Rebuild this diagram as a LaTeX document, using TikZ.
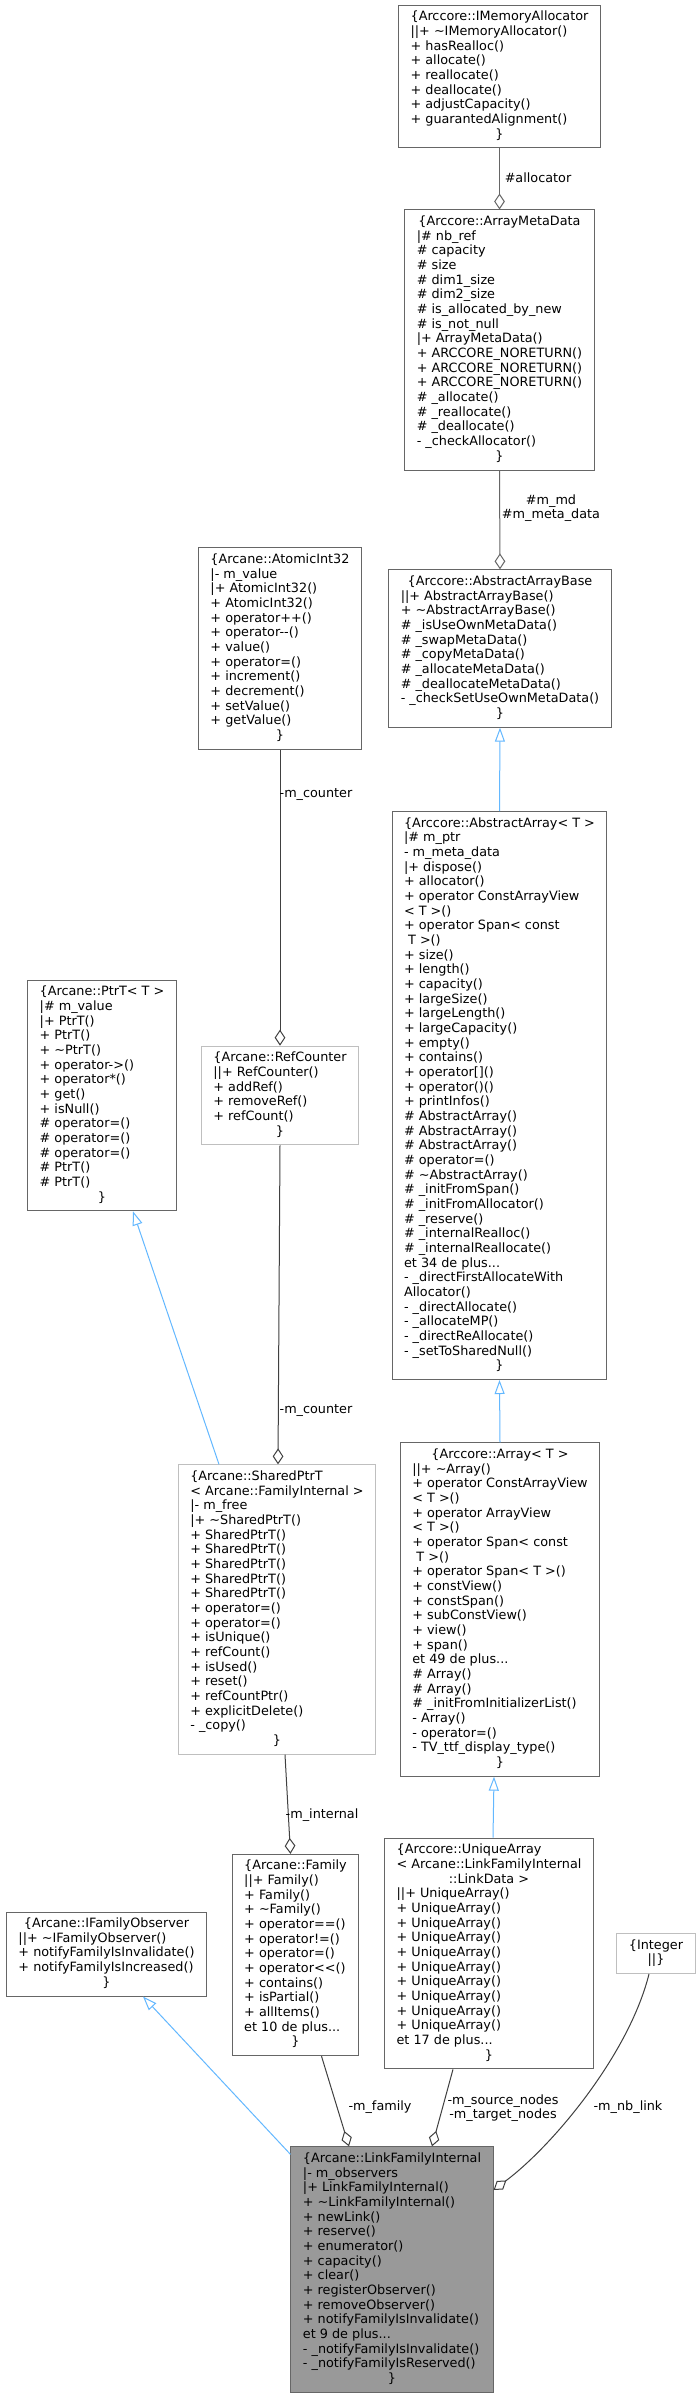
\documentclass[tikz,border=0pt]{standalone}
\usepackage{fontspec}
\setmainfont{DejaVu Sans}
\usepackage{xcolor}
\usetikzlibrary{arrows.meta,calc}

\definecolor{boxline}{HTML}{666666}
\definecolor{boxlight}{HTML}{BFBFBF}
\definecolor{focusfill}{HTML}{999999}
\definecolor{edgedark}{HTML}{404040}
\definecolor{edgeprot}{HTML}{666666}
\definecolor{inhblue}{HTML}{63B8FF}

\newcommand{\ctrline}[1]{\multicolumn{1}{@{}c@{}}{#1}}
\newcommand{\tld}{\textasciitilde}

\begin{document}
\begin{tikzpicture}[
  x=0.75pt, y=-0.75pt,
  font=\fontsize{9.6}{11}\selectfont,
  cls/.style={draw=boxline, line width=0.75pt, fill=white, inner xsep=9pt, inner ysep=4pt},
  undoc/.style={cls, draw=boxlight},
  focus/.style={cls, fill=focusfill},
  member/.style={draw=edgedark, line width=0.75pt, -{Diamond[open, length=12pt, width=8pt]}},
  protmember/.style={member, draw=edgeprot},
  inherit/.style={draw=inhblue, line width=0.75pt, -{Triangle[open, length=10.5pt, width=7.5pt]}},
  lbl/.style={inner sep=0pt, align=center}
]
\path[fill=white, use as bounding box] (0,0) rectangle (699,2397);

% right column: array classes
\node[cls] (ima) at (499.5,76.5) {\begin{tabular}{@{}l@{}}
\ctrline{\{Arccore::IMemoryAllocator}\\
||+ \tld IMemoryAllocator()\\
+ hasRealloc()\\
+ allocate()\\
+ reallocate()\\
+ deallocate()\\
+ adjustCapacity()\\
+ guarantedAlignment()\\
\ctrline{\}}
\end{tabular}};

\node[cls] (amd) at (499.5,340) {\begin{tabular}{@{}l@{}}
\ctrline{\{Arccore::ArrayMetaData}\\
|\# nb\_ref\\
\# capacity\\
\# size\\
\# dim1\_size\\
\# dim2\_size\\
\# is\_allocated\_by\_new\\
\# is\_not\_null\\
|+ ArrayMetaData()\\
+ ARCCORE\_NORETURN()\\
+ ARCCORE\_NORETURN()\\
+ ARCCORE\_NORETURN()\\
\# \_allocate()\\
\# \_reallocate()\\
\# \_deallocate()\\
- \_checkAllocator()\\
\ctrline{\}}
\end{tabular}};

\node[cls] (aab) at (500,648.5) {\begin{tabular}{@{}l@{}}
\ctrline{\{Arccore::AbstractArrayBase}\\
||+ AbstractArrayBase()\\
+ \tld AbstractArrayBase()\\
\# \_isUseOwnMetaData()\\
\# \_swapMetaData()\\
\# \_copyMetaData()\\
\# \_allocateMetaData()\\
\# \_deallocateMetaData()\\
- \_checkSetUseOwnMetaData()\\
\ctrline{\}}
\end{tabular}};

\node[cls] (aa) at (499.5,1095.5) {\begin{tabular}{@{}l@{}}
\ctrline{\{Arccore::AbstractArray< T >}\\
|\# m\_ptr\\
- m\_meta\_data\\
|+ dispose()\\
+ allocator()\\
+ operator ConstArrayView\\
< T >()\\
+ operator Span< const\\
\ T >()\\
+ size()\\
+ length()\\
+ capacity()\\
+ largeSize()\\
+ largeLength()\\
+ largeCapacity()\\
+ empty()\\
+ contains()\\
+ operator[]()\\
+ operator()()\\
+ printInfos()\\
\# AbstractArray()\\
\# AbstractArray()\\
\# AbstractArray()\\
\# operator=()\\
\# \tld AbstractArray()\\
\# \_initFromSpan()\\
\# \_initFromAllocator()\\
\# \_reserve()\\
\# \_internalRealloc()\\
\# \_internalReallocate()\\
et 34 de plus...\\
- \_directFirstAllocateWith\\
Allocator()\\
- \_directAllocate()\\
- \_allocateMP()\\
- \_directReAllocate()\\
- \_setToSharedNull()\\
\ctrline{\}}
\end{tabular}};

\node[cls] (arr) at (500,1609.5) {\begin{tabular}{@{}l@{}}
\ctrline{\{Arccore::Array< T >}\\
||+ \tld Array()\\
+ operator ConstArrayView\\
< T >()\\
+ operator ArrayView\\
< T >()\\
+ operator Span< const\\
\ T >()\\
+ operator Span< T >()\\
+ constView()\\
+ constSpan()\\
+ subConstView()\\
+ view()\\
+ span()\\
et 49 de plus...\\
\# Array()\\
\# Array()\\
\# \_initFromInitializerList()\\
- Array()\\
- operator=()\\
- TV\_ttf\_display\_type()\\
\ctrline{\}}
\end{tabular}};

\node[cls] (ua) at (489,1953.5) {\begin{tabular}{@{}l@{}}
\{Arccore::UniqueArray\\
< Arcane::LinkFamilyInternal\\
\ctrline{::LinkData >}\\
||+ UniqueArray()\\
+ UniqueArray()\\
+ UniqueArray()\\
+ UniqueArray()\\
+ UniqueArray()\\
+ UniqueArray()\\
+ UniqueArray()\\
+ UniqueArray()\\
+ UniqueArray()\\
+ UniqueArray()\\
et 17 de plus...\\
\ctrline{\}}
\end{tabular}};

% left column: shared pointer classes
\node[cls] (ai) at (280,648.5) {\begin{tabular}{@{}l@{}}
\ctrline{\{Arcane::AtomicInt32}\\
|- m\_value\\
|+ AtomicInt32()\\
+ AtomicInt32()\\
+ operator++()\\
+ operator-{}-()\\
+ value()\\
+ operator=()\\
+ increment()\\
+ decrement()\\
+ setValue()\\
+ getValue()\\
\ctrline{\}}
\end{tabular}};

\node[cls] (ptr) at (102,1095.5) {\begin{tabular}{@{}l@{}}
\ctrline{\{Arcane::PtrT< T >}\\
|\# m\_value\\
|+ PtrT()\\
+ PtrT()\\
+ \tld PtrT()\\
+ operator->()\\
+ operator*()\\
+ get()\\
+ isNull()\\
\# operator=()\\
\# operator=()\\
\# operator=()\\
\# PtrT()\\
\# PtrT()\\
\ctrline{\}}
\end{tabular}};

\node[undoc] (rc) at (280,1095.5) {\begin{tabular}{@{}l@{}}
\ctrline{\{Arcane::RefCounter}\\
||+ RefCounter()\\
+ addRef()\\
+ removeRef()\\
+ refCount()\\
\ctrline{\}}
\end{tabular}};

\node[undoc] (sp) at (277,1609.5) {\begin{tabular}{@{}l@{}}
\{Arcane::SharedPtrT\\
\ctrline{< Arcane::FamilyInternal >}\\
|- m\_free\\
|+ \tld SharedPtrT()\\
+ SharedPtrT()\\
+ SharedPtrT()\\
+ SharedPtrT()\\
+ SharedPtrT()\\
+ SharedPtrT()\\
+ operator=()\\
+ operator=()\\
+ isUnique()\\
+ refCount()\\
+ isUsed()\\
+ reset()\\
+ refCountPtr()\\
+ explicitDelete()\\
- \_copy()\\
\ctrline{\}}
\end{tabular}};

% bottom row
\node[cls] (ifo) at (106.5,1954) {\begin{tabular}{@{}l@{}}
\ctrline{\{Arcane::IFamilyObserver}\\
||+ \tld IFamilyObserver()\\
+ notifyFamilyIsInvalidate()\\
+ notifyFamilyIsIncreased()\\
\ctrline{\}}
\end{tabular}};

\node[cls] (fam) at (295.5,1955) {\begin{tabular}{@{}l@{}}
\ctrline{\{Arcane::Family}\\
||+ Family()\\
+ Family()\\
+ \tld Family()\\
+ operator==()\\
+ operator!=()\\
+ operator=()\\
+ operator<{}<()\\
+ contains()\\
+ isPartial()\\
+ allItems()\\
et 10 de plus...\\
\ctrline{\}}
\end{tabular}};

\node[undoc] (int) at (656,1953.5) {\begin{tabular}{@{}l@{}}
\ctrline{\{Integer}\\
\ctrline{||\}}
\end{tabular}};

\node[focus] (lfi) at (392,2269.5) {\begin{tabular}{@{}l@{}}
\ctrline{\{Arcane::LinkFamilyInternal}\\
|- m\_observers\\
|+ LinkFamilyInternal()\\
+ \tld LinkFamilyInternal()\\
+ newLink()\\
+ reserve()\\
+ enumerator()\\
+ capacity()\\
+ clear()\\
+ registerObserver()\\
+ removeObserver()\\
+ notifyFamilyIsInvalidate()\\
et 9 de plus...\\
- \_notifyFamilyIsInvalidate()\\
- \_notifyFamilyIsReserved()\\
\ctrline{\}}
\end{tabular}};

% connectors
\draw[protmember] (ima.south) -- (amd.north);
\draw[protmember] (amd.south) -- (aab.north);
\draw[inherit] (aa.north) -- (aab.south);
\draw[inherit] (arr.north) -- (aa.south);
\draw[inherit] ($(ua.north)+(4,0)$) -- ($(arr.south)+(-6,0)$);
\draw[member] (ai.south) -- (rc.north);
\draw[member] (rc.south) -- ($(sp.north)+(1,0)$);
\draw[inherit] ($(sp.north)+(-58,0)$) -- ($(ptr.south)+(31,0)$);
\draw[member] ($(sp.south)+(8,0)$) -- ($(fam.north)+(-5,0)$);
\draw[member] ($(fam.south)+(26,0)$) -- ($(lfi.north)+(-43,0)$);
\draw[member] ($(ua.south)+(-36,0)$) -- ($(lfi.north)+(40,0)$);
\draw[member] ($(int.south)+(-7,0)$) .. controls +(-20,80) and +(60,-45) .. ($(lfi.east)+(0,-79.5)$);
\draw[inherit] ($(lfi.north west)+(0,8)$) -- ($(ifo.south)+(36.5,0)$);

% edge labels
\node[lbl] (lalloc) at (538,178) {\#allocator};
\node[lbl] (lmd) at (551,508) {\#m\_md\\\#m\_meta\_data};
\node[lbl] (lcnta) at (316,795) {-m\_counter};
\node[lbl] (lcntb) at (316,1410) {-m\_counter};
\node[lbl] (lint) at (322,1815) {-m\_internal};
\node[lbl] (lfam) at (380,2107) {-m\_family};
\node[lbl] (lnodes) at (503,2108) {-m\_source\_nodes\\-m\_target\_nodes};
\node[lbl] (lnb) at (628,2107) {-m\_nb\_link};
\end{tikzpicture}
\end{document}
